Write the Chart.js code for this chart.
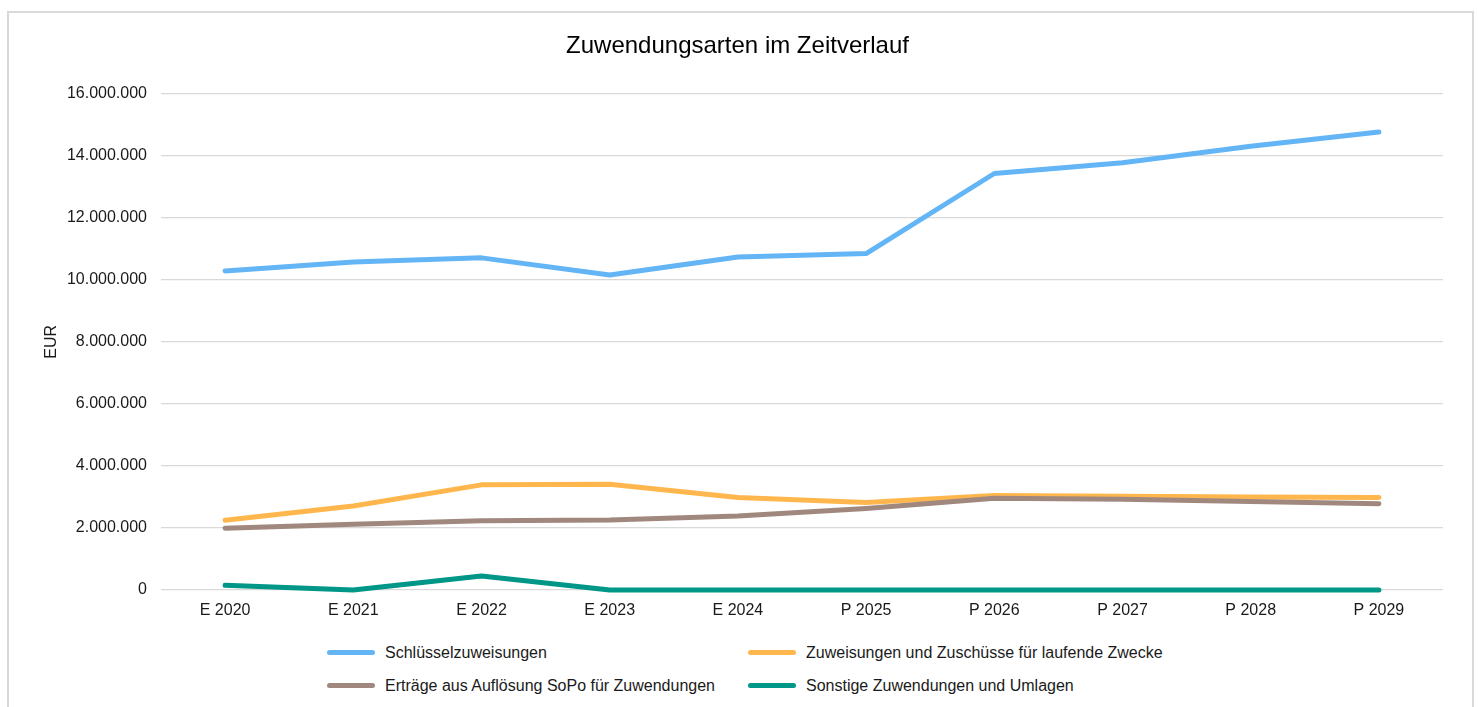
<!DOCTYPE html>
<html>
<head>
<meta charset="utf-8">
<title>Zuwendungsarten im Zeitverlauf</title>
<script src="https://cdn.jsdelivr.net/npm/chart.js@4"></script>
<style>
  body { margin: 0; background: #fff; font-family: "Liberation Sans", Arial, sans-serif; }
  .rahmen { position: absolute; left: 7px; top: 11px; width: 1463px; height: 740px; border: 2px solid #d9d9d9; }
  .chartBox { position: absolute; left: 0; top: 0; width: 1478px; height: 625px; }
  .legende { position: absolute; left: 0; top: 636px; width: 1478px; }
  .legende .item { position: absolute; display: flex; align-items: center; height: 33px; font-size: 16px; color: #1a1a1a; white-space: nowrap; }
  .legende .linie { display: inline-block; width: 48px; height: 5px; border-radius: 3px; margin-right: 10px; }
</style>
</head>
<body>
<div class="rahmen"></div>
<div class="chartBox"><canvas id="myChart"></canvas></div>
<div class="legende" id="legende"></div>
<script>
const jahre = ['E 2020', 'E 2021', 'E 2022', 'E 2023', 'E 2024', 'P 2025', 'P 2026', 'P 2027', 'P 2028', 'P 2029']

const schluesselzuweisungen = [10290000, 10580000, 10710000, 10160000, 10740000, 10850000, 13430000, 13780000, 14310000, 14770000]
const zuweisungenLaufend = [2250000, 2710000, 3390000, 3410000, 2980000, 2820000, 3050000, 3020000, 3000000, 2980000]
const ertraegeSoPo = [1990000, 2120000, 2230000, 2260000, 2390000, 2630000, 2960000, 2930000, 2850000, 2780000]
const sonstigeZuwendungen = [150000, 0, 450000, 0, 0, 0, 0, 0, 0, 0]

const reihenNamen = [
    'Schlüsselzuweisungen',
    'Zuweisungen und Zuschüsse für laufende Zwecke',
    'Erträge aus Auflösung SoPo für Zuwendungen',
    'Sonstige Zuwendungen und Umlagen'
]
const farben = ['#64b5f6', '#ffb74d', '#a1887f', '#009688']

const ctx = document.getElementById('myChart')

function formatEur(wert) {
    return String(Math.round(wert)).replace(/\B(?=(\d{3})+(?!\d))/g, '.')
}

function linie(i, daten) {
    return {
        label: reihenNamen[i],
        data: daten,
        borderColor: farben[i],
        backgroundColor: farben[i],
        borderWidth: 5,
        borderCapStyle: 'round',
        borderJoinStyle: 'round',
        pointRadius: 0,
        tension: 0,
        clip: 8,
        order: 4 - i
    }
}

const schrift = { family: '"Liberation Sans", Arial, sans-serif', size: 16 }

const tabela = new Chart(ctx, {
    type: 'line',
    data: {
        labels: jahre,
        datasets: [
            linie(0, schluesselzuweisungen),
            linie(1, zuweisungenLaufend),
            linie(2, ertraegeSoPo),
            linie(3, sonstigeZuwendungen)
        ]
    },
    options: {
        responsive: true,
        maintainAspectRatio: false,
        animation: false,
        layout: { padding: { top: 13, left: 32, right: 35, bottom: 5 } },
        plugins: {
            legend: { display: false },
            tooltip: { enabled: false },
            title: {
                display: true,
                text: 'Zuwendungsarten im Zeitverlauf',
                color: '#000',
                font: { family: schrift.family, size: 24, weight: 'normal' },
                padding: { top: 19, bottom: 33 }
            }
        },
        scales: {
            x: {
                offset: true,
                grid: { display: false, drawTicks: false },
                border: { display: false },
                ticks: { color: '#1a1a1a', font: schrift, padding: 11, maxRotation: 0 },
                afterFit: (s) => { s.height = 30 }
            },
            y: {
                min: 0,
                max: 16000000,
                grid: { color: '#d9d9d9', lineWidth: 1.3, drawTicks: false },
                border: { display: false },
                ticks: { stepSize: 2000000, color: '#1a1a1a', font: schrift, padding: 14, callback: (v) => formatEur(v) },
                title: { display: true, text: 'EUR', color: '#1a1a1a', font: schrift, padding: { top: 10, bottom: 0 } },
                afterFit: (s) => { s.width = 129 }
            }
        }
    }
})

// Legende in zwei Spalten wie im Original
const legende = document.querySelector('#legende')
const spaltenX = [327, 748]
tabela.data.datasets.forEach((ds, i) => {
    const item = document.createElement('div')
    item.className = 'item'
    item.style.left = spaltenX[i % 2] + 'px'
    item.style.top = (Math.floor(i / 2) * 33) + 'px'
    item.innerHTML = `<span class="linie" style="background:${ds.borderColor}"></span>${ds.label}`
    legende.appendChild(item)
})
</script>
</body>
</html>
